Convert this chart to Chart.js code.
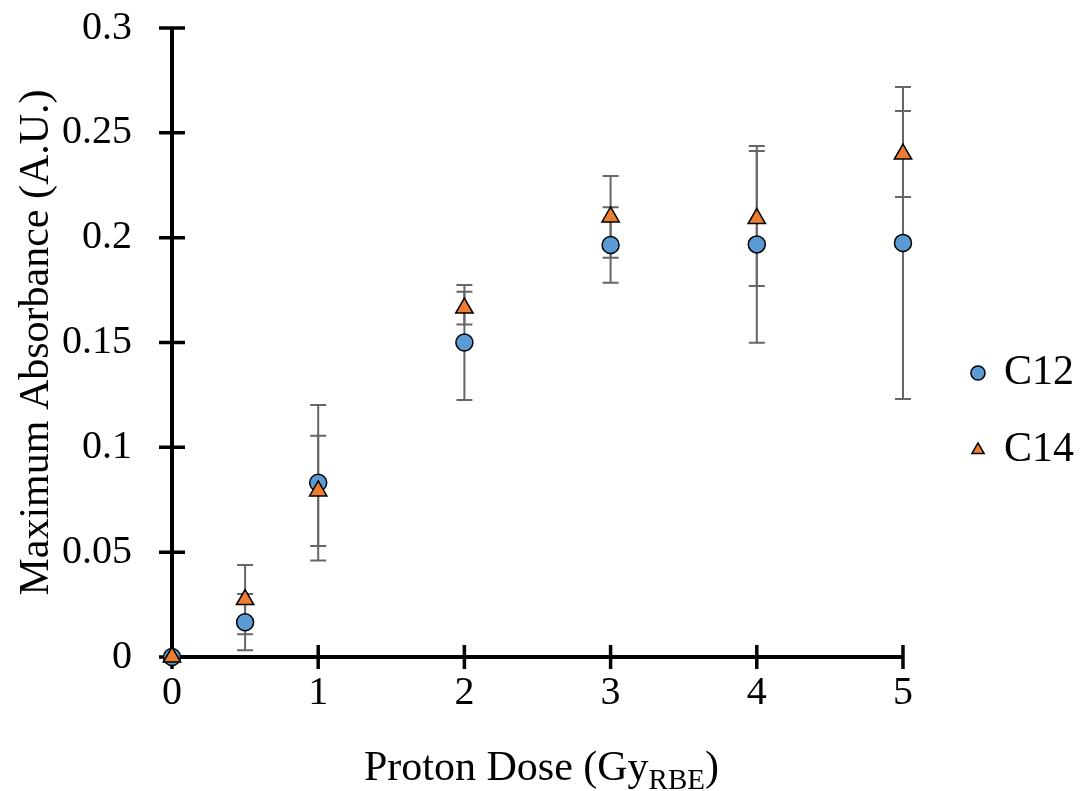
<!DOCTYPE html>
<html>
<head>
<meta charset="utf-8">
<script src="https://cdn.jsdelivr.net/npm/chart.js@4.4.1/dist/chart.umd.min.js"></script>
<style>
  html, body { margin: 0; padding: 0; background: #fff; }
  #wrap { width: 1086px; height: 791px; }
</style>
</head>
<body>
<div id="wrap"><canvas id="chart" width="1086" height="791"></canvas></div>
<script>
// proton dose (x) vs maximum absorbance (y), two compounds with error bars
const doses = [0, 0.5, 1, 2, 3, 4, 5];
const c12Values = [0, 0.0166, 0.0831, 0.1500, 0.1965, 0.1968, 0.1975];
const c12Errors = [0, 0.0134, 0.0371, 0.0274, 0.0180, 0.0469, 0.0744];
const c14Values = [0, 0.0274, 0.0792, 0.1664, 0.2099, 0.2091, 0.2399];
const c14Errors = [0, 0.0165, 0.0263, 0.0078, 0.0195, 0.0322, 0.0205];

const xTickValues = [0, 1, 2, 3, 4, 5];
const xTickLabels = ['0', '1', '2', '3', '4', '5'];
const yTickValues = [0, 0.05, 0.1, 0.15, 0.2, 0.25, 0.3];
const yTickLabels = ['0', '0.05', '0.1', '0.15', '0.2', '0.25', '0.3'];

const serif = '"Liberation Serif", "Times New Roman", serif';

// axis lines + tick marks that cross the axis
const axesCross = {
    id: 'axesCross',
    beforeDatasetsDraw(chart) {
        const { ctx, chartArea: a } = chart;
        const xs = chart.scales.x, ys = chart.scales.y;
        ctx.save();
        ctx.strokeStyle = '#000';
        ctx.lineWidth = 4;
        ctx.beginPath();
        ctx.moveTo(a.left, a.top);
        ctx.lineTo(a.left, a.bottom);
        ctx.moveTo(a.left, a.bottom);
        ctx.lineTo(a.right, a.bottom);
        ctx.stroke();
        ctx.lineWidth = 3.5;
        ctx.beginPath();
        xTickValues.forEach(v => {
            const px = xs.getPixelForValue(v);
            ctx.moveTo(px, a.bottom - 12);
            ctx.lineTo(px, a.bottom + 12);
        });
        yTickValues.forEach(v => {
            const py = ys.getPixelForValue(v);
            ctx.moveTo(a.left - 13, py);
            ctx.lineTo(a.left + 13, py);
        });
        ctx.stroke();
        ctx.restore();
    }
};

// vertical error bars, under the markers
const errorBars = {
    id: 'errorBars',
    beforeDatasetsDraw(chart) {
        const ctx = chart.ctx;
        const xs = chart.scales.x, ys = chart.scales.y;
        ctx.save();
        ctx.strokeStyle = '#666';
        ctx.lineWidth = 2;
        chart.data.datasets.forEach(ds => {
            ds.data.forEach((p, i) => {
                const e = ds.errors[i];
                if (!e) return;
                const px = xs.getPixelForValue(p.x);
                const top = ys.getPixelForValue(p.y + e);
                const bot = ys.getPixelForValue(p.y - e);
                ctx.beginPath();
                ctx.moveTo(px, top); ctx.lineTo(px, bot);
                ctx.moveTo(px - 8, top); ctx.lineTo(px + 8, top);
                ctx.moveTo(px - 8, bot); ctx.lineTo(px + 8, bot);
                ctx.stroke();
            });
        });
        ctx.restore();
    }
};

// x title needs a subscript, so draw it by hand
const xTitle = {
    id: 'xTitle',
    afterDraw(chart) {
        const { ctx, chartArea: a } = chart;
        const main = 'Proton Dose (Gy', sub = 'RBE', tail = ')';
        ctx.save();
        ctx.fillStyle = '#000';
        ctx.textAlign = 'left';
        ctx.textBaseline = 'alphabetic';
        ctx.font = '42px ' + serif;
        const w1 = ctx.measureText(main).width;
        const w3 = ctx.measureText(tail).width;
        ctx.font = '29px ' + serif;
        const w2 = ctx.measureText(sub).width;
        let x = (a.left + a.right) / 2 + 4 - (w1 + w2 + w3) / 2;
        const base = a.bottom + 123;
        ctx.font = '42px ' + serif;
        ctx.fillText(main, x, base);
        x += w1;
        ctx.font = '29px ' + serif;
        ctx.fillText(sub, x, base + 9);
        x += w2;
        ctx.font = '42px ' + serif;
        ctx.fillText(tail, x, base);
        ctx.restore();
    }
};

// legend sits a bit further right than chart.js puts it
const legendShift = {
    id: 'legendShift',
    afterLayout(chart) {
        chart.legend.left += 35;
        chart.legend.right += 35;
        chart.legend.top += 2;
        chart.legend.bottom += 2;
    }
};

const ctx = document.getElementById('chart').getContext('2d');
new Chart(ctx, {
    type: 'scatter',
    data: {
        datasets: [
            {
                label: 'C12',
                data: doses.map((d, i) => ({ x: d, y: c12Values[i] })),
                errors: c12Errors,
                pointStyle: 'circle',
                pointRadius: 8.5,
                backgroundColor: '#5b9bd5',
                borderColor: '#000',
                borderWidth: 1.5,
                clip: false,
                order: 1
            },
            {
                label: 'C14',
                data: doses.map((d, i) => ({ x: d, y: c14Values[i] })),
                errors: c14Errors,
                pointStyle: 'triangle',
                pointRadius: 10,
                backgroundColor: '#ed7d31',
                borderColor: '#000',
                borderWidth: 1.5,
                clip: false,
                order: 0
            }
        ]
    },
    options: {
        responsive: false,
        animation: false,
        devicePixelRatio: 1,
        events: [],
        layout: { padding: { top: 28, right: 37, bottom: 0, left: 0 } },
        plugins: {
            legend: {
                position: 'right',
                labels: {
                    usePointStyle: true,
                    boxWidth: 10,
                    boxHeight: 10,
                    padding: 35,
                    color: '#000',
                    font: { family: serif, size: 42 },
                    sort: (a, b) => a.datasetIndex - b.datasetIndex
                }
            },
            tooltip: { enabled: false }
        },
        scales: {
            x: {
                type: 'linear',
                min: 0,
                max: 5,
                afterBuildTicks: s => { s.ticks = xTickValues.map(v => ({ value: v })); },
                afterFit: s => { s.height = 134; },
                grid: { display: false, drawTicks: false },
                border: { display: false },
                ticks: {
                    autoSkip: false,
                    maxRotation: 0,
                    padding: 12,
                    color: '#000',
                    font: { family: serif, size: 40 },
                    callback: (v, i) => xTickLabels[i]
                }
            },
            y: {
                type: 'linear',
                min: 0,
                max: 0.3,
                afterBuildTicks: s => { s.ticks = yTickValues.map(v => ({ value: v })); },
                afterFit: s => { s.width = 172; },
                // tick marks are drawn by the plugin; tickLength only spaces the labels
                grid: { display: false, drawTicks: true, tickLength: 36 },
                border: { display: false },
                ticks: {
                    autoSkip: false,
                    padding: 4,
                    color: '#000',
                    font: { family: serif, size: 40 },
                    callback: (v, i) => yTickLabels[i]
                },
                title: {
                    display: true,
                    text: 'Maximum Absorbance (A.U.)',
                    color: '#000',
                    font: { family: serif, size: 42 },
                    padding: { top: 12, bottom: 0 }
                }
            }
        }
    },
    plugins: [axesCross, errorBars, xTitle, legendShift]
});
</script>
</body>
</html>
